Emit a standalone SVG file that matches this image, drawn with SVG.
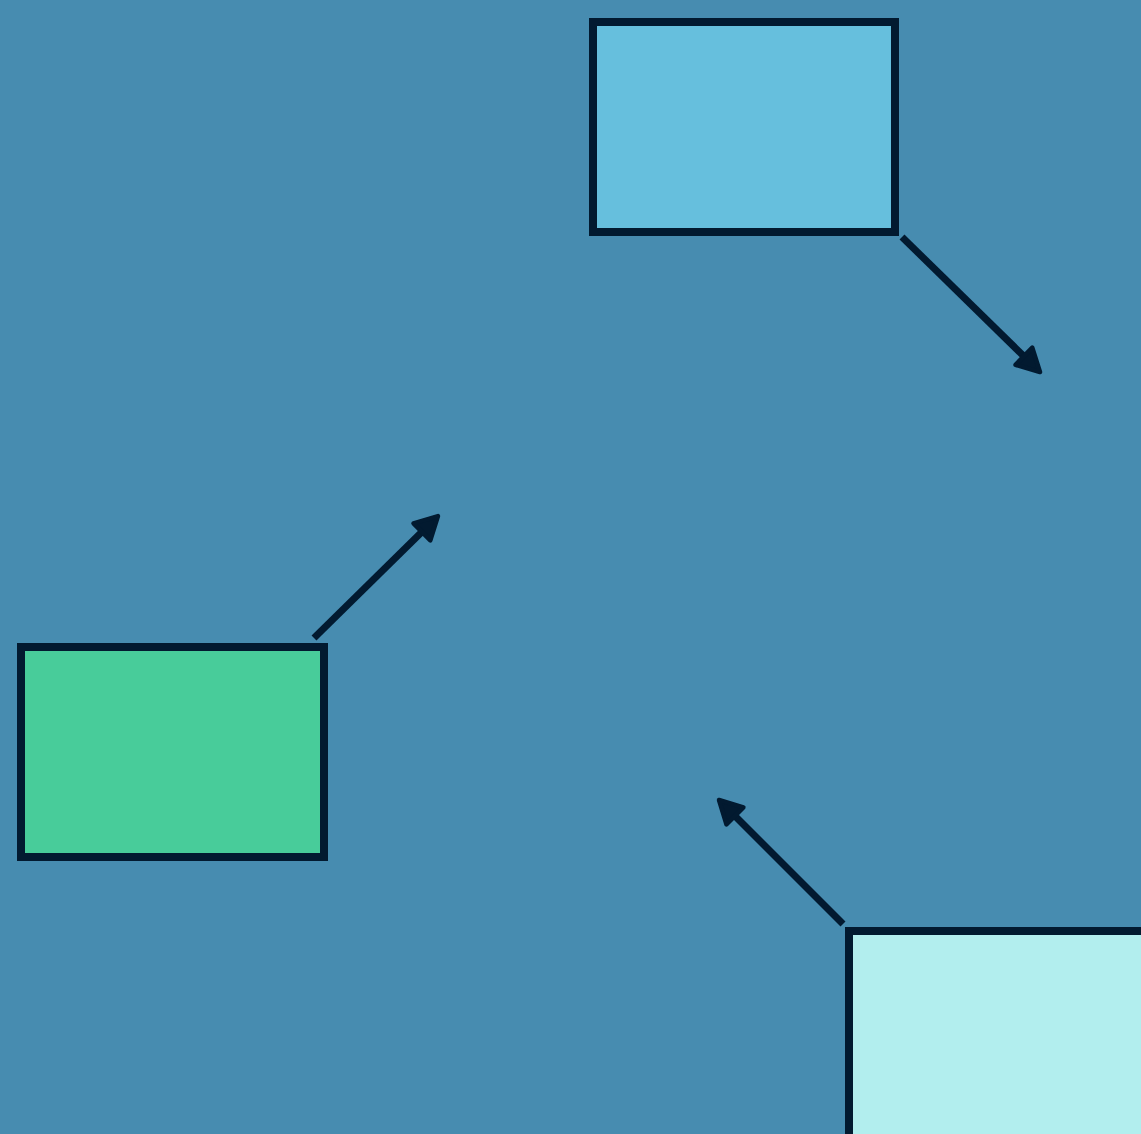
<svg xmlns="http://www.w3.org/2000/svg" width="1141" height="1134" viewBox="0 0 1141 1134">
<defs>
<style>
.node{stroke:#021a30;stroke-width:8}
.edge{stroke:#021a30;stroke-width:7;fill:none;marker-end:url(#ah)}
</style>
<marker id="ah" markerUnits="userSpaceOnUse" viewBox="0 0 30 30" markerWidth="30" markerHeight="30" refX="14" refY="15" orient="auto">
<path d="M3.5,3 L26,15 L3.5,27 Z" fill="#021a30" stroke="#021a30" stroke-width="4.5" stroke-linejoin="round"/>
</marker>
</defs>
<rect width="1141" height="1134" fill="#478cb0"/>
<g id="node-top"><rect class="node" x="593" y="22" width="302" height="210" fill="#66bfdd"/></g>
<g id="node-left"><rect class="node" x="21" y="647" width="303" height="210" fill="#48cc9a"/></g>
<g id="node-bottom"><rect class="node" x="849" y="931" width="310" height="220" fill="#b2eeee"/></g>
<g id="connectors">
<line class="edge" x1="902" y1="237" x2="1031.4" y2="363.6"/>
<line class="edge" x1="314" y1="638" x2="429.4" y2="524.5"/>
<line class="edge" x1="843" y1="924" x2="727.5" y2="808.5"/>
</g>
</svg>
